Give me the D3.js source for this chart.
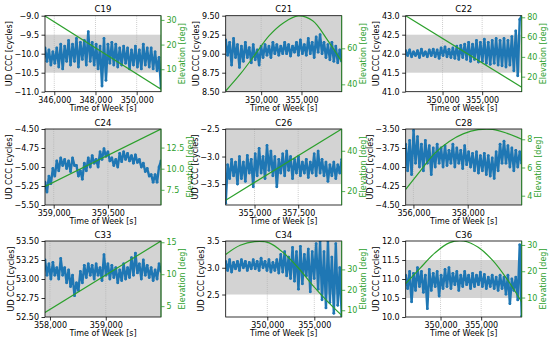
<!DOCTYPE html>
<html>
<head>
<meta charset="utf-8">
<script src="https://cdnjs.cloudflare.com/ajax/libs/d3/7.8.5/d3.min.js"></script>
<style>
  body { margin: 0; background: #fff; }
  svg { display: block; font-family: "DejaVu Sans", sans-serif; }
</style>
</head>
<body>
<svg id="chart" width="550" height="344"></svg>
<script>
// satellite names, one subplot each
var satellites = ["C19", "C21", "C22", "C24", "C26", "C28", "C33", "C34", "C36"];

// time of week range covered by each subplot [s]
var timeRanges = [
    [345550, 351180], [345600, 359990], [345350, 359990],
    [358920, 359990], [353350, 359990], [355715, 359990],
    [357911, 359990], [345575, 357915], [345712, 359990]
];

// UD CCC values [cycles], evenly spaced over the time range
var cccC19 = [-9.85,-10.2,-9.9,-10.3,-9.95,-10.25,-9.85,-10.35,-9.75,-10.4,
    -9.8,-10.2,-9.65,-10.3,-9.75,-10.2,-9.6,-10.35,-9.7,-10.15,
    -9.65,-10.3,-9.42,-10.2,-9.7,-10.3,-9.75,-10.4,-9.8,-10.85,
    -9.6,-10.7,-9.75,-10.25,-9.7,-10.3,-9.75,-10.35,-9.85,-10.3,
    -9.8,-10.25,-9.85,-10.4,-9.9,-10.3,-9.8,-10.35,-9.9,-10.4,
    -9.75,-10.3,-9.85,-10.35,-9.85,-10.4,-9.95,-10.45,-10.1,-10.9];
var cccC21 = [9.18,8.98,9.15,8.85,9.2,8.95,9.12,8.82,9.1,8.9,
    9.15,8.95,9.08,8.88,9.12,8.92,9.05,8.85,9.1,8.95,
    9.12,8.98,9.1,8.95,9.15,9.0,9.12,8.98,9.1,9.0,
    9.15,9.0,9.12,8.97,9.1,9.02,9.15,8.98,9.18,9.0,
    9.12,8.98,9.2,9.0,9.15,8.95,9.22,9.02,9.25,9.0,
    9.15,8.95,9.12,8.92,9.15,8.9,9.1,8.88,9.05,8.9];
var cccC22 = [42.08,41.95,42.1,41.92,42.05,41.95,42.08,41.9,42.12,41.95,
    42.05,41.92,42.1,41.95,42.12,41.92,42.1,41.88,42.15,41.95,
    42.18,41.92,42.12,41.9,42.15,41.88,42.2,41.85,42.22,41.9,
    42.25,41.85,42.3,41.8,42.25,41.85,42.35,41.78,42.3,41.8,
    42.38,41.75,42.3,41.72,42.35,41.75,42.4,41.7,42.35,41.68,
    42.4,41.65,42.35,41.7,42.45,41.55,42.6,41.42,42.9,43.0];
var cccC24 = [-5.2,-5.33,-5.12,-5.22,-5.02,-5.12,-4.92,-5.05,-4.88,-4.98,
    -4.9,-5.02,-4.92,-5.06,-4.88,-4.98,-4.98,-5.12,-5.05,-5.16,
    -4.95,-5.05,-4.88,-5.0,-4.85,-4.95,-4.9,-5.0,-4.8,-4.9,
    -4.76,-4.86,-4.8,-4.92,-4.88,-4.98,-4.9,-5.0,-4.82,-4.93,
    -4.8,-4.9,-4.82,-4.92,-4.85,-4.95,-4.84,-4.94,-4.9,-5.0,
    -4.95,-5.06,-5.02,-5.12,-5.1,-5.2,-5.1,-5.2,-5.0,-4.92];
var cccC26 = [-3.85,-3.15,-3.4,-3.05,-3.35,-3.1,-3.5,-3.0,-3.4,-3.1,
    -3.45,-2.98,-3.3,-3.05,-3.55,-2.95,-3.35,-2.85,-3.3,-3.0,
    -3.4,-2.8,-3.25,-2.9,-3.35,-3.0,-3.55,-3.05,-3.3,-2.95,
    -3.35,-2.9,-3.25,-3.0,-3.4,-3.05,-3.3,-3.0,-3.35,-3.1,
    -3.3,-3.05,-3.38,-3.1,-3.3,-2.95,-3.35,-2.9,-3.3,-3.05,
    -3.35,-3.1,-3.45,-3.15,-3.35,-3.1,-3.4,-3.15,-3.3,-3.05];
var cccC28 = [-3.7,-4.05,-3.65,-4.1,-3.52,-3.95,-3.6,-4.0,-3.7,-4.05,
    -3.65,-3.95,-3.72,-4.1,-3.75,-4.0,-3.7,-3.95,-3.75,-4.0,
    -3.72,-3.98,-3.78,-3.95,-3.7,-4.0,-3.75,-3.95,-3.78,-4.02,
    -3.72,-3.97,-3.8,-4.0,-3.82,-4.05,-3.8,-4.08,-3.85,-4.05,
    -3.82,-4.1,-3.85,-4.12,-3.88,-4.15,-3.8,-4.05,-3.7,-3.95,
    -3.66,-3.95,-3.72,-4.0,-3.75,-4.05,-3.78,-4.0,-3.8,-3.95];
var cccC33 = [53.25,53.05,53.2,53.0,53.22,53.05,53.15,53.0,53.27,53.05,
    53.15,52.95,53.12,52.9,53.05,52.78,52.95,52.85,53.1,52.95,
    53.18,53.02,53.2,53.05,53.18,53.0,53.2,53.05,53.15,52.98,
    53.32,53.05,53.2,53.0,53.18,53.02,53.15,52.95,53.12,52.98,
    53.2,53.0,53.15,53.02,53.28,53.05,53.34,53.08,53.2,53.0,
    53.25,53.05,53.18,53.02,53.15,52.98,53.12,53.0,53.2,53.1];
var cccC34 = [3.12,2.95,3.15,2.92,3.1,2.98,3.12,2.95,3.15,3.0,
    3.12,2.95,3.1,2.98,3.15,2.98,3.12,2.95,3.18,3.0,
    3.12,2.95,3.15,2.92,3.1,2.95,3.15,2.9,3.25,2.92,
    3.3,2.85,3.2,2.8,3.38,2.75,3.3,2.6,3.4,2.7,
    3.25,2.85,3.35,2.55,3.3,2.8,3.45,2.6,3.5,2.4,
    3.3,2.25,3.5,2.35,3.2,2.15,3.45,2.3,3.0,2.1];
var cccC36 = [11.1,10.75,11.2,10.4,11.15,10.7,11.3,10.8,11.2,10.65,
    11.1,10.22,11.25,10.7,11.15,10.8,11.2,10.55,11.1,10.75,
    11.25,10.8,11.3,10.75,11.15,10.85,11.2,10.7,11.1,10.8,
    11.2,10.85,11.1,10.75,11.15,10.8,11.1,10.85,11.18,10.8,
    11.12,10.75,11.05,10.8,11.1,10.75,11.05,10.7,11.1,10.75,
    11.05,10.6,11.1,10.35,11.0,10.7,11.05,10.45,11.9,10.02];
var cccSeries = [cccC19, cccC21, cccC22, cccC24, cccC26, cccC28, cccC33, cccC34, cccC36];

// elevation [deg], evenly spaced over the time range
var elevC19 = [31.6, 1.9];
var elevC21 = [36.3, 45.6, 56.2, 67.0, 74.2, 78.0, 75.3, 64.8, 52.6];
var elevC22 = [81.5, 9.3];
var elevC24 = [7.9, 14.7];
var elevC26 = [15.5, 50.8];
var elevC28 = [4.45, 5.75, 7.0, 7.85, 8.4, 8.68, 8.7, 8.42, 8.0];
var elevC33 = [4.0, 15.2];
var elevC34 = [37.3, 41.8, 43.6, 43.0, 38.0, 30.8, 22.2, 14.5, 7.5];
var elevC36 = [15.3, 21.2, 26.9, 30.8, 31.5, 29.1, 24.1, 16.9, 8.3];
var elevSeries = [elevC19, elevC21, elevC22, elevC24, elevC26, elevC28, elevC33, elevC34, elevC36];

// axis ranges and ticks
var cccDomains = [[-11, -9], [8.5, 9.5], [41, 43], [-5.5, -4.5], [-3.88, -2.5],
    [-4.5, -3.5], [52.5, 53.5], [2.08, 3.5], [10, 12]];
var cccBands = [[-10.5, -9.5], [8.5, 9.5], [41.5, 42.5], [-5.5, -4.5], [-3.5, -2.5],
    [-4.5, -3.5], [52.5, 53.5], [2.5, 3.5], [10.5, 11.5]];
var cccTicks = [[-11, -10.5, -10, -9.5, -9], [8.5, 8.75, 9, 9.25, 9.5], [41, 41.5, 42, 42.5, 43],
    [-5.5, -5.25, -5, -4.75, -4.5], [-3.5, -3, -2.5], [-4.5, -4.25, -4, -3.75, -3.5],
    [52.5, 52.75, 53, 53.25, 53.5], [2.5, 3, 3.5], [10, 10.5, 11, 11.5, 12]];
var cccDecimals = [1, 2, 1, 2, 1, 2, 2, 1, 1];
var elevDomains = [[0.9, 31.7], [35.9, 78.1], [4.8, 81.6], [5.7, 14.7], [13.1, 50.8],
    [3.34, 8.73], [3.3, 15.2], [6.7, 43.9], [2.6, 31.5]];
var elevTicks = [[10, 20, 30], [40, 60], [20, 40, 60, 80], [7.5, 10, 12.5], [20, 40],
    [4, 6, 8], [5, 10, 15], [10, 20, 30], [10, 20, 30]];
var elevDecimals = [0, 0, 0, 1, 0, 0, 0, 0, 0];
var timeTicks = [[346000, 348000, 350000], [350000, 355000], [350000, 355000],
    [359000, 359500], [355000, 357500], [356000, 358000], [358000, 359000],
    [350000, 355000], [350000, 355000]];

var W = 116, H = 76;
var colLeft = [45, 225.7, 405.7];
var rowTop = [15.7, 129, 241];
var blue = "#1f77b4", green = "#2ca02c";

var svg = d3.select("#chart");

satellites.forEach(function (name, i) {
    var g = svg.append("g")
        .attr("transform", "translate(" + colLeft[i % 3] + "," + rowTop[Math.floor(i / 3)] + ")");

    var t0 = timeRanges[i][0], t1 = timeRanges[i][1];
    var x = d3.scaleLinear().domain(timeRanges[i]).range([0, W]);
    var y = d3.scaleLinear().domain(cccDomains[i]).range([H, 0]);
    var y2 = d3.scaleLinear().domain(elevDomains[i]).range([H, 0]);

    g.append("clipPath").attr("id", "clip" + i)
        .append("rect").attr("width", W).attr("height", H);

    var plot = g.append("g").attr("clip-path", "url(#clip" + i + ")");

    // shaded band
    plot.append("rect")
        .attr("x", 0).attr("width", W)
        .attr("y", y(cccBands[i][1]))
        .attr("height", y(cccBands[i][0]) - y(cccBands[i][1]))
        .attr("fill", "#d3d3d3");

    // vertical grid
    plot.selectAll(".grid")
        .data(timeTicks[i])
        .enter().append("line")
        .attr("x1", function (d) { return x(d); })
        .attr("x2", function (d) { return x(d); })
        .attr("y1", 0).attr("y2", H)
        .attr("stroke", "#b0b0b0")
        .attr("stroke-width", 0.8)
        .attr("stroke-dasharray", "0.8,1.3");

    // UD CCC series
    var ccc = cccSeries[i];
    var pts = ccc.map(function (v, j) {
        return [t0 + j * (t1 - t0) / (ccc.length - 1), v];
    });
    plot.append("path")
        .datum(pts)
        .attr("fill", "none")
        .attr("stroke", blue)
        .attr("stroke-width", 2.4)
        .attr("stroke-linejoin", "round")
        .attr("d", d3.line()
            .x(function (d) { return x(d[0]); })
            .y(function (d) { return y(d[1]); }));
    plot.selectAll(".dot")
        .data(pts)
        .enter().append("circle")
        .attr("cx", function (d) { return x(d[0]); })
        .attr("cy", function (d) { return y(d[1]); })
        .attr("r", 1.4)
        .attr("fill", blue);

    // elevation
    var elev = elevSeries[i];
    var epts = elev.map(function (v, j) {
        return [t0 + j * (t1 - t0) / (elev.length - 1), v];
    });
    plot.append("path")
        .datum(epts)
        .attr("fill", "none")
        .attr("stroke", green)
        .attr("stroke-width", 1.2)
        .attr("d", d3.line()
            .curve(d3.curveCatmullRom)
            .x(function (d) { return x(d[0]); })
            .y(function (d) { return y2(d[1]); }));

    // frame
    g.append("rect")
        .attr("width", W).attr("height", H)
        .attr("fill", "none")
        .attr("stroke", "#000")
        .attr("stroke-width", 0.8);
    g.append("line")
        .attr("x1", W).attr("x2", W).attr("y1", 0).attr("y2", H)
        .attr("stroke", green).attr("stroke-width", 0.8);

    // axes
    var xAxis = g.append("g")
        .attr("transform", "translate(0," + H + ")")
        .call(d3.axisBottom(x).tickValues(timeTicks[i])
            .tickFormat(d3.format(",")).tickSize(3.5).tickPadding(2));
    var yAxis = g.append("g")
        .call(d3.axisLeft(y).tickValues(cccTicks[i])
            .tickFormat(d3.format("." + cccDecimals[i] + "f")).tickSize(3.5).tickPadding(2.5));
    var y2Axis = g.append("g")
        .attr("transform", "translate(" + W + ",0)")
        .call(d3.axisRight(y2).tickValues(elevTicks[i])
            .tickFormat(d3.format("." + elevDecimals[i] + "f")).tickSize(3.5).tickPadding(2));

    [xAxis, yAxis, y2Axis].forEach(function (a) {
        a.select(".domain").remove();
        a.attr("font-family", "DejaVu Sans").attr("font-size", 8);
        a.selectAll("line").attr("stroke-width", 0.8);
    });
    y2Axis.selectAll("line").attr("stroke", green);
    y2Axis.selectAll("text").attr("fill", green);

    // title
    g.append("text")
        .attr("x", W / 2).attr("y", -3.5)
        .attr("text-anchor", "middle")
        .attr("font-size", 8.5)
        .text(name);

    g.append("text")
        .attr("x", W / 2).attr("y", H + 19)
        .attr("text-anchor", "middle")
        .attr("font-size", 8)
        .text("Time of Week [s]");

    var lb = yAxis.node().getBBox();
    g.append("text")
        .attr("transform", "translate(" + (lb.x - 2.5) + "," + (H / 2) + ") rotate(-90)")
        .attr("text-anchor", "middle")
        .attr("font-size", 8)
        .text("UD CCC [cycles]");

    var rb = y2Axis.node().getBBox();
    g.append("text")
        .attr("transform", "translate(" + (W + rb.x + rb.width + 8.5) + "," + (H / 2) + ") rotate(-90)")
        .attr("text-anchor", "middle")
        .attr("font-size", 8)
        .attr("fill", green)
        .text("Elevation [deg]");
});
</script>
</body>
</html>
